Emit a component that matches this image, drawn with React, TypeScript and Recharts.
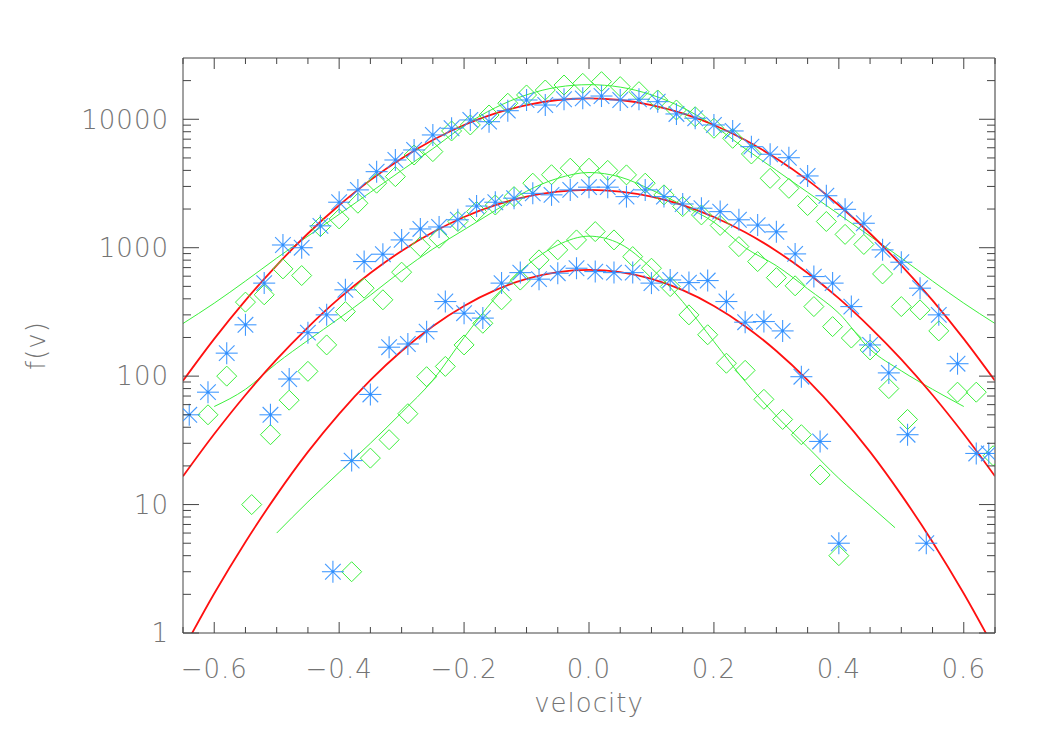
import React from 'react';
import { ComposedChart, XAxis, YAxis, Line, Scatter } from 'recharts';

// ---------- tick values / labels ----------
const xMajorTicks = [-0.6, -0.4, -0.2, 0, 0.2, 0.4, 0.6];
const xTickLabels = ['\u22120.6', '\u22120.4', '\u22120.2', '0.0', '0.2', '0.4', '0.6'];
const xAllTicks = [-0.65, -0.6, -0.55, -0.5, -0.45, -0.4, -0.35, -0.3, -0.25, -0.2, -0.15, -0.1, -0.05, 0,
  0.05, 0.1, 0.15, 0.2, 0.25, 0.3, 0.35, 0.4, 0.45, 0.5, 0.55, 0.6, 0.65];
const yMajorTicks = [1, 10, 100, 1000, 10000];
const yTickLabels = ['1', '10', '100', '1000', '10000'];
const yAllTicks = [1, 2, 3, 4, 5, 6, 7, 8, 9, 10, 20, 30, 40, 50, 60, 70, 80, 90, 100, 200, 300, 400, 500, 600,
  700, 800, 900, 1000, 2000, 3000, 4000, 5000, 6000, 7000, 8000, 9000, 10000, 20000];

// ---------- top group ----------
const topStarV = [-0.64, -0.61, -0.58, -0.55, -0.52, -0.49, -0.46, -0.43, -0.40, -0.37, -0.34, -0.31, -0.28, -0.25,
  -0.22, -0.19, -0.16, -0.13, -0.10, -0.07, -0.04, -0.01, 0.02, 0.05, 0.08, 0.11, 0.14, 0.17, 0.20, 0.23, 0.26,
  0.29, 0.32, 0.35, 0.38, 0.41, 0.44, 0.47, 0.50, 0.53, 0.56, 0.59, 0.62];
const topStarF = [50, 75, 151, 251, 530, 1050, 1000, 1480, 2260, 2820, 3910, 4820, 5770, 7550,
  8510, 9880, 9580, 11670, 14130, 12910, 14320, 14560, 15170, 14130, 14320, 13710, 11000, 10190, 9030, 8110, 6120,
  5340, 5020, 3620, 2540, 1990, 1550, 962, 771, 484, 300, 125, 25];
const topDiamV = [-0.61, -0.58, -0.55, -0.52, -0.49, -0.46, -0.43, -0.40, -0.37, -0.34, -0.31, -0.28, -0.25,
  -0.22, -0.19, -0.16, -0.13, -0.10, -0.07, -0.04, -0.01, 0.02, 0.05, 0.08, 0.11, 0.14, 0.17, 0.20, 0.23, 0.26,
  0.29, 0.32, 0.35, 0.38, 0.41, 0.44, 0.47, 0.50, 0.53, 0.56, 0.59, 0.62];
const topDiamF = [50, 100, 377, 430, 684, 607, 1460, 1675, 2220, 3180, 3575, 5270, 5600,
  8110, 9030, 10800, 13330, 15460, 16900, 18480, 19050, 19630, 17950, 16400, 14130, 11810, 10470, 8510, 7110, 5370,
  3470, 2900, 2130, 1600, 1270, 1060, 625, 348, 328, 225, 75, 75];
const topRedV = [-0.65, -0.6, -0.55, -0.5, -0.45, -0.4, -0.35, -0.3, -0.25, -0.2, -0.15, -0.1, -0.05, 0,
  0.05, 0.1, 0.15, 0.2, 0.25, 0.3, 0.35, 0.4, 0.45, 0.5, 0.55, 0.6, 0.65];
const topRedF = [92, 195, 389, 730, 1290, 2140, 3360, 4950, 6890, 9020, 11120, 12910, 14130, 14550,
  14130, 12910, 11120, 9020, 6890, 4950, 3360, 2140, 1290, 730, 389, 195, 92];
const topFitV = [-0.65, -0.6, -0.55, -0.5, -0.45, -0.4, -0.35, -0.3, -0.25, -0.2, -0.15, -0.1, -0.05, 0,
  0.05, 0.1, 0.15, 0.2, 0.25, 0.3, 0.35, 0.4, 0.45, 0.5, 0.55, 0.6, 0.65];
const topFitF = [257, 370, 550, 830, 1230, 1820, 2700, 4000, 5900, 8900, 12300, 15500, 17800, 18600,
  17800, 15500, 12300, 8900, 5900, 4000, 2700, 1820, 1230, 830, 550, 370, 257];

// ---------- middle group ----------
const midStarV = [-0.51, -0.48, -0.45, -0.42, -0.39, -0.36, -0.33, -0.30, -0.27, -0.24, -0.21, -0.18, -0.15,
  -0.12, -0.09, -0.06, -0.03, 0.00, 0.03, 0.06, 0.09, 0.12, 0.15, 0.18, 0.21, 0.24, 0.27, 0.30, 0.33, 0.36,
  0.39, 0.42, 0.45, 0.48, 0.51, 0.54, 0.64];
const midStarF = [50, 95, 218, 300, 470, 780, 890, 1150, 1400, 1450, 1650, 2110, 2260,
  2430, 2650, 2580, 2820, 2960, 2960, 2500, 2820, 2500, 2190, 2030, 1910, 1650, 1500, 1330, 895, 596,
  530, 348, 175, 106, 35, 5, 25];
const midDiamV = [-0.51, -0.48, -0.45, -0.42, -0.39, -0.36, -0.33, -0.30, -0.27, -0.24, -0.21, -0.18, -0.15,
  -0.12, -0.09, -0.06, -0.03, 0.00, 0.03, 0.06, 0.09, 0.12, 0.15, 0.18, 0.21, 0.24, 0.27, 0.30, 0.33, 0.36,
  0.39, 0.42, 0.45, 0.48, 0.51, 0.647];
const midDiamF = [35, 65, 109, 175, 318, 484, 393, 645, 1020, 1185, 1600, 1910, 2150,
  2500, 3180, 3700, 4160, 4160, 4000, 3690, 3180, 2580, 2090, 1800, 1490, 1020, 780, 585, 505, 348,
  243, 198, 160, 80, 46, 24];
const midRedV = [-0.65, -0.6, -0.55, -0.5, -0.45, -0.4, -0.35, -0.3, -0.25, -0.2, -0.15, -0.1, -0.05, 0,
  0.05, 0.1, 0.15, 0.2, 0.25, 0.3, 0.35, 0.4, 0.45, 0.5, 0.55, 0.6, 0.65];
const midRedF = [16.6, 35.4, 71.3, 135, 240, 403, 635, 944, 1318, 1733, 2145, 2496, 2735, 2818,
  2735, 2496, 2145, 1733, 1318, 944, 635, 403, 240, 135, 71.3, 35.4, 16.6];
const midFitV = [-0.6, -0.55, -0.5, -0.45, -0.4, -0.35, -0.3, -0.25, -0.2, -0.15, -0.1, -0.05, 0,
  0.05, 0.1, 0.15, 0.2, 0.25, 0.3, 0.35, 0.4, 0.45, 0.5, 0.55, 0.6];
const midFitF = [58, 79, 126, 190, 282, 427, 660, 977, 1380, 1950, 2750, 3470, 3850,
  3550, 2820, 2140, 1580, 1000, 724, 479, 309, 162, 110, 79, 58];

// ---------- bottom group ----------
const lowStarV = [-0.41, -0.38, -0.35, -0.32, -0.29, -0.26, -0.23, -0.20, -0.17, -0.14, -0.11, -0.08, -0.05,
  -0.02, 0.01, 0.04, 0.07, 0.10, 0.13, 0.16, 0.19, 0.22, 0.25, 0.28, 0.31, 0.34, 0.37, 0.40];
const lowStarF = [3, 22, 72, 168, 178, 222, 381, 309, 283, 530, 640, 569, 633,
  692, 652, 640, 640, 530, 561, 535, 555, 381, 263, 266, 225, 99, 31, 5];
const lowDiamV = [-0.54, -0.38, -0.35, -0.32, -0.29, -0.26, -0.23, -0.20, -0.17, -0.14, -0.11, -0.08, -0.05,
  -0.02, 0.01, 0.04, 0.07, 0.10, 0.13, 0.16, 0.19, 0.22, 0.25, 0.28, 0.31, 0.34, 0.37, 0.40];
const lowDiamF = [10, 3, 23, 32, 51, 99, 119, 175, 258, 393, 560, 804, 962,
  1150, 1335, 1150, 853, 692, 498, 300, 210, 126, 111, 66, 46, 35, 17, 4];
const lowRedV = [-0.65, -0.6, -0.55, -0.5, -0.45, -0.4, -0.35, -0.3, -0.25, -0.2, -0.15, -0.1, -0.05, 0,
  0.05, 0.1, 0.15, 0.2, 0.25, 0.3, 0.35, 0.4, 0.45, 0.5, 0.55, 0.6, 0.65];
const lowRedF = [0.74, 2.03, 5.12, 11.9, 25.7, 50.9, 93.1, 157, 245, 352, 467, 571, 645, 671,
  645, 571, 467, 352, 245, 157, 93.1, 50.9, 25.7, 11.9, 5.12, 2.03, 0.74];
const lowFitV = [-0.5, -0.45, -0.4, -0.35, -0.3, -0.25, -0.2, -0.15, -0.1, -0.05, 0,
  0.05, 0.1, 0.15, 0.2, 0.25, 0.3, 0.35, 0.4, 0.45, 0.49];
const lowFitF = [6.0, 10.5, 17.8, 30, 52, 93, 200, 407, 724, 1050, 1230,
  1070, 692, 380, 186, 91, 49, 28, 16, 9.8, 6.6];

// ---------- helpers ----------
const zip = (v: number[], f: number[]) => v.map((x, i) => ({ v: x, f: f[i] }));

const topStars = zip(topStarV, topStarF);
const topDiams = zip(topDiamV, topDiamF);
const topRed = zip(topRedV, topRedF);
const topFit = zip(topFitV, topFitF);
const midStars = zip(midStarV, midStarF);
const midDiams = zip(midDiamV, midDiamF);
const midRed = zip(midRedV, midRedF);
const midFit = zip(midFitV, midFitF);
const lowStars = zip(lowStarV, lowStarF);
const lowDiams = zip(lowDiamV, lowDiamF);
const lowRed = zip(lowRedV, lowRedF);
const lowFit = zip(lowFitV, lowFitF);

const FONT = "'DejaVu Sans', 'Liberation Sans', sans-serif";
const TEXT = '#747474';
const AXIS = '#444';
const BLUE = '#2f8fff';
const GREEN = '#3cf03c';
const RED = '#ff1010';

const isMajor = (arr: number[], val: number) => arr.findIndex((t) => Math.abs(t - val) < 1e-9);

const BottomTick = (p: any) => {
  const idx = isMajor(xMajorTicks, p.payload.value);
  return (
    <g>
      <line x1={p.x} y1={p.y} x2={p.x} y2={p.y - (idx >= 0 ? 11 : 6)} stroke={AXIS} strokeWidth={1} />
      {idx >= 0 && (
        <text x={p.x} y={p.y + 45} textAnchor="middle" fontFamily={FONT} fontWeight={200} fontSize={26}
          letterSpacing={1} fill={TEXT}>{xTickLabels[idx]}</text>
      )}
    </g>
  );
};

const TopTick = (p: any) => {
  const idx = isMajor(xMajorTicks, p.payload.value);
  return <line x1={p.x} y1={p.y} x2={p.x} y2={p.y + (idx >= 0 ? 11 : 6)} stroke={AXIS} strokeWidth={1} />;
};

const LeftTick = (p: any) => {
  const idx = isMajor(yMajorTicks, p.payload.value);
  return (
    <g>
      <line x1={p.x} y1={p.y} x2={p.x + (idx >= 0 ? 16 : 8)} y2={p.y} stroke={AXIS} strokeWidth={1} />
      {idx >= 0 && (
        <text x={p.x - 14} y={p.y} dy="0.36em" textAnchor="end" fontFamily={FONT} fontWeight={200} fontSize={26}
          letterSpacing={1} fill={TEXT}>{yTickLabels[idx]}</text>
      )}
    </g>
  );
};

const RightTick = (p: any) => {
  const idx = isMajor(yMajorTicks, p.payload.value);
  return <line x1={p.x} y1={p.y} x2={p.x - (idx >= 0 ? 16 : 8)} y2={p.y} stroke={AXIS} strokeWidth={1} />;
};

const Asterisk = (p: any) => {
  const { cx, cy } = p;
  if (cx == null || cy == null) return <g />;
  const r = 11;
  const d = 7.8;
  return (
    <g stroke={BLUE} strokeWidth={1.1} strokeOpacity={0.9}>
      <line x1={cx - r} y1={cy} x2={cx + r} y2={cy} />
      <line x1={cx} y1={cy - r} x2={cx} y2={cy + r} />
      <line x1={cx - d} y1={cy - d} x2={cx + d} y2={cy + d} />
      <line x1={cx - d} y1={cy + d} x2={cx + d} y2={cy - d} />
      <circle cx={cx} cy={cy} r={1.4} fill={BLUE} stroke="none" />
    </g>
  );
};

const Diamond = (p: any) => {
  const { cx, cy } = p;
  if (cx == null || cy == null) return <g />;
  const r = 10;
  return (
    <path d={`M${cx},${cy - r}L${cx + r},${cy}L${cx},${cy + r}L${cx - r},${cy}Z`} fill="none"
      stroke={GREEN} strokeWidth={1} />
  );
};

const xLabel = (props: any) => {
  const vb = props.viewBox;
  return (
    <text x={vb.x + vb.width / 2} y={vb.y + 79} textAnchor="middle" fontFamily={FONT} fontWeight={200}
      fontSize={26} letterSpacing={1} fill={TEXT}>velocity</text>
  );
};

const yLabel = (props: any) => {
  const vb = props.viewBox;
  const cx = vb.x + 28;
  const cy = vb.y + vb.height / 2;
  return (
    <text x={cx} y={cy} dy="0.36em" textAnchor="middle" transform={`rotate(-90 ${cx} ${cy})`} fontFamily={FONT}
      fontWeight={200} fontSize={26} letterSpacing={1} fill={TEXT}>f(v)</text>
  );
};

export default function App() {
  return (
    <div style={{ width: 1034, height: 734, background: '#fff' }}>
      <ComposedChart width={1034} height={734} margin={{ top: 20, right: 27, bottom: 9, left: 0 }}>
        <XAxis xAxisId="b" type="number" dataKey="v" domain={[-0.65, 0.65]} allowDataOverflow ticks={xAllTicks}
          interval={0} tickSize={0} tickMargin={0} tickLine={false} tick={<BottomTick />} height={100}
          stroke={AXIS} label={{ content: xLabel }} />
        <XAxis xAxisId="t" orientation="top" type="number" dataKey="v" domain={[-0.65, 0.65]} allowDataOverflow
          ticks={xAllTicks} interval={0} tickSize={0} tickMargin={0} tickLine={false} tick={<TopTick />} height={30}
          stroke={AXIS} />
        <YAxis yAxisId="l" type="number" scale="log" dataKey="f" domain={[1, 30000]} allowDataOverflow
          ticks={yAllTicks} interval={0} tickSize={0} tickMargin={0} tickLine={false} tick={<LeftTick />} width={175}
          stroke={AXIS} label={{ content: yLabel }} />
        <YAxis yAxisId="r" orientation="right" type="number" scale="log" dataKey="f" domain={[1, 30000]}
          allowDataOverflow ticks={yAllTicks} interval={0} tickSize={0} tickMargin={0} tickLine={false}
          tick={<RightTick />} width={20} stroke="#777" strokeWidth={1.5} />

        <Line xAxisId="b" yAxisId="l" data={topFit} dataKey="f" type="monotone" stroke={GREEN} strokeWidth={1}
          dot={false} isAnimationActive={false} />
        <Line xAxisId="b" yAxisId="l" data={midFit} dataKey="f" type="monotone" stroke={GREEN} strokeWidth={1}
          dot={false} isAnimationActive={false} />
        <Line xAxisId="b" yAxisId="l" data={lowFit} dataKey="f" type="monotone" stroke={GREEN} strokeWidth={1}
          dot={false} isAnimationActive={false} />

        <Scatter xAxisId="b" yAxisId="l" data={topDiams} dataKey="f" shape={<Diamond />} isAnimationActive={false} />
        <Scatter xAxisId="b" yAxisId="l" data={midDiams} dataKey="f" shape={<Diamond />} isAnimationActive={false} />
        <Scatter xAxisId="b" yAxisId="l" data={lowDiams} dataKey="f" shape={<Diamond />} isAnimationActive={false} />

        <Scatter xAxisId="b" yAxisId="l" data={topStars} dataKey="f" shape={<Asterisk />} isAnimationActive={false} />
        <Scatter xAxisId="b" yAxisId="l" data={midStars} dataKey="f" shape={<Asterisk />} isAnimationActive={false} />
        <Scatter xAxisId="b" yAxisId="l" data={lowStars} dataKey="f" shape={<Asterisk />} isAnimationActive={false} />

        <Line xAxisId="b" yAxisId="l" data={topRed} dataKey="f" type="monotone" stroke={RED} strokeWidth={1.8}
          dot={false} isAnimationActive={false} />
        <Line xAxisId="b" yAxisId="l" data={midRed} dataKey="f" type="monotone" stroke={RED} strokeWidth={1.8}
          dot={false} isAnimationActive={false} />
        <Line xAxisId="b" yAxisId="l" data={lowRed} dataKey="f" type="monotone" stroke={RED} strokeWidth={1.8}
          dot={false} isAnimationActive={false} />
      </ComposedChart>
    </div>
  );
}
